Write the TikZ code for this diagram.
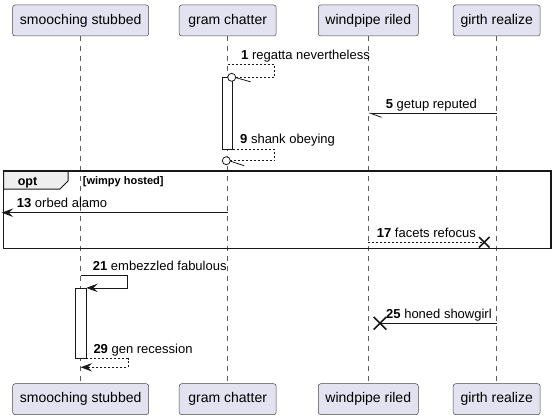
\documentclass[tikz,border=0pt]{standalone}
\usepackage{fontspec}
\setmainfont{Liberation Sans}
\usetikzlibrary{arrows.meta,positioning,shapes.misc}
\definecolor{partfill}{HTML}{E2E2F0}
\definecolor{tabfill}{HTML}{EEEEEE}
\definecolor{umlline}{HTML}{181818}

\begin{document}
\begin{tikzpicture}[x=1pt,y=-1pt,
	msg/.style={umlline,line width=0.8pt},
	reply/.style={umlline,line width=0.8pt,dash pattern=on 2pt off 2pt},
	lifeline/.style={umlline!70,line width=0.5pt,dash pattern=on 5pt off 5pt},
	lbl/.style={anchor=base west,inner sep=0pt,font=\fontsize{13}{15}\selectfont},
	actbar/.style={draw=umlline,fill=white,line width=0.8pt,minimum width=10.3pt,inner sep=0pt},
	lostx/.style={draw=umlline,cross out,line width=1.6pt,inner sep=0pt},
	endcirc/.style={draw=umlline,circle,fill=white,line width=0.8pt,minimum size=8pt,inner sep=0pt},
	>={Stealth[length=11.5pt,width=8.5pt,inset=4.5pt]}]
	\useasboundingbox (0,0) rectangle (555,420);

	\begin{scope}[every node/.style={draw=umlline!80,fill=partfill,rounded corners=2.5pt,line width=0.5pt,minimum height=31pt,inner sep=0pt,font=\fontsize{14}{16}\selectfont}]
		\node[minimum width=136pt] (ss) at (80.7,20.5) {smooching stubbed};
		\node[minimum width=97pt] (gc) at (227.7,20.5) {gram chatter};
		\node[minimum width=100pt] (wr) at (368.3,20.5) {windpipe riled};
		\node[minimum width=87pt] (gr) at (496.7,20.5) {girth realize};
		\node[minimum width=136pt] (ssb) at (80.7,399.2) {smooching stubbed};
		\node[minimum width=97pt] (gcb) at (227.7,399.2) {gram chatter};
		\node[minimum width=100pt] (wrb) at (368.3,399.2) {windpipe riled};
		\node[minimum width=87pt] (grb) at (496.7,399.2) {girth realize};
	\end{scope}

	\draw[lifeline] (ss) -- (ssb);
	\draw[lifeline] (gc) -- (gcb);
	\draw[lifeline] (wr) -- (wrb);
	\draw[lifeline] (gr) -- (grb);

	\coordinate (optnw) at (3.5,171);
	\coordinate (optse) at (551,248.5);
	\draw[umlline,fill=tabfill,line width=1pt] (optnw) -- (68,171) -- (68,181) -- (60,189) -- (3.5,189) -- cycle;
	\draw[umlline,line width=1.5pt] (optnw) rectangle (optse);
	\node[inner sep=0pt,anchor=base,font=\bfseries\fontsize{12.5}{14}\selectfont] (optlbl) at (27.5,185) {opt};
	\node[inner sep=0pt,anchor=base west,font=\bfseries\fontsize{11}{13}\selectfont] (guard) at (82.7,184) {[wimpy hosted]};

	\node[actbar,minimum height=71.7pt] (act1) at (227.5,113.2) {};
	\node[actbar,minimum height=70pt] (act2) at (80.8,323.3) {};

	\coordinate (m1a) at (227.7,64.3);
	\coordinate (m1b) at (231.7,77.3);
	\coordinate (m5a) at (496.7,113.3);
	\coordinate (m5b) at (368.3,113.3);
	\coordinate (m9b) at (226.3,160.7);
	\coordinate (m13a) at (227.7,212.7);
	\coordinate (m13b) at (1.7,212.7);
	\coordinate (m17a) at (368.3,242.3);
	\coordinate (m21a) at (80.7,275.7);
	\coordinate (m25a) at (496.7,323.3);
	\coordinate (m29b) at (80.7,367.3);

	\draw[reply,-{Straight Barb[harpoon,length=16pt,width=9pt]}] (m1a) -- ++(46.6,0) |- (m1b);
	\node[endcirc] (c1) at (m1b) {};
	\node[lbl] (l1) at (241,59.3) {\textbf{1} regatta nevertheless};

	\draw[msg,-{Straight Barb[harpoon,length=11pt,width=8pt]}] (m5a) -- (m5b);
	\node[lbl] (l5) at (385.7,108.3) {\textbf{5} getup reputed};

	\draw[reply,-{Straight Barb[harpoon,length=15.4pt,width=10pt]}] (act1.south east) -- ++(41.6,0) |- (m9b);
	\node[endcirc] (c9) at (m9b) {};
	\node[lbl] (l9) at (240,143.5) {\textbf{9} shank obeying};

	\draw[msg,->] (m13a) -- (m13b);
	\node[lbl] (l13) at (16.7,207.5) {\textbf{13} orbed alamo};

	\node[lostx,minimum size=9pt] (x17) at (484.3,242.3) {};
	\draw[reply] (m17a) -- (x17.center);
	\node[lbl] (l17) at (376.7,237.3) {\textbf{17} facets refocus};

	\draw[msg,->] (m21a) -- ++(47,0) |- (act2.north east);
	\node[lbl] (l21) at (92.7,270.5) {\textbf{21} embezzled fabulous};

	\node[lostx,minimum size=11pt] (x25) at (380,323.3) {};
	\draw[msg] (m25a) -- (x25.center);
	\node[lbl] (l25) at (386,318.3) {\textbf{25} honed showgirl};

	\draw[reply,->] (act2.south east) -- ++(41.7,0) |- (m29b);
	\node[lbl] (l29) at (93.3,353.3) {\textbf{29} gen recession};
\end{tikzpicture}
\end{document}
